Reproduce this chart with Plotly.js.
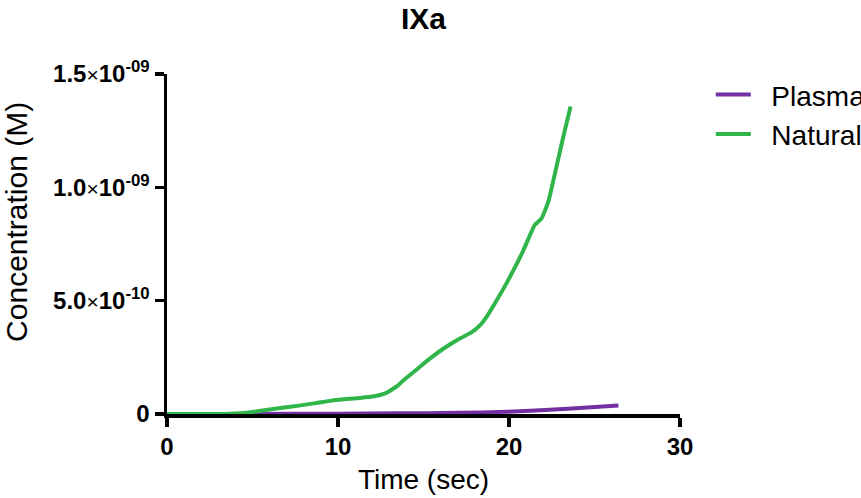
<!DOCTYPE html>
<html>
<head>
<meta charset="utf-8">
<script src="https://cdn.plot.ly/plotly-3.0.1.min.js"></script>
<style>html,body{margin:0;padding:0;background:#fff;}#chart{width:861px;height:498px;}</style>
</head>
<body>
<div id="chart"></div>
<script>
// Time (sec)
const plasmaTime = [0, 5, 10, 13.5, 17, 19.9, 23.2, 26.4];
// Concentration (M)
const plasmaConc = [0, 0.5e-12, 1e-12, 3e-12, 5e-12, 10e-12, 22e-12, 37e-12];

const naturalTime = [0, 2, 3.6, 4.5, 5.3, 6.5, 7.7, 8.7, 9.6, 10.5, 11.3, 12.1, 12.8, 13.5, 13.8, 14.5, 15.35, 16.2, 17.1, 17.8, 18.3, 18.7, 19.1, 19.9, 20.8, 21.5, 21.9, 22.3, 22.8, 23.2, 23.6];
const naturalConc = [0, 0, 1e-12, 5e-12, 12e-12, 25e-12, 37e-12, 48e-12, 59e-12, 66e-12, 71e-12, 78e-12, 92e-12, 125e-12, 147e-12, 190e-12, 243e-12, 290e-12, 332e-12, 360e-12, 391e-12, 430e-12, 479e-12, 583e-12, 715e-12, 833e-12, 863e-12, 937e-12, 1099e-12, 1231e-12, 1357e-12];

const seriesNames = ["Plasma", "Natural"];
const yTickVals = [0, 5e-10, 1e-9, 1.5e-9];
const TIMES = "<span style=\"font-weight:normal;font-size:21px\">×</span>";
const yTickText = ["0", "5.0" + TIMES + "10<sup>-10</sup>", "1.0" + TIMES + "10<sup>-09</sup>", "1.5" + TIMES + "10<sup>-09</sup>"];
const xTickVals = [0, 10, 20, 30];

const traces = [
  {x: plasmaTime, y: plasmaConc, name: "\u00a0\u00a0" + seriesNames[0], mode: "lines",
   line: {color: "#7330a3", width: 4, shape: "spline", smoothing: 0.6}},
  {x: naturalTime, y: naturalConc, name: "\u00a0\u00a0" + seriesNames[1], mode: "lines",
   line: {color: "#2fb54a", width: 4, shape: "spline", smoothing: 0.4}}
];

const layout = {
  width: 861, height: 498,
  margin: {l: 167, r: 181, t: 74, b: 84, autoexpand: false},
  paper_bgcolor: "#fff", plot_bgcolor: "#fff",
  font: {family: "Liberation Sans, Arial, sans-serif", color: "#000"},
  title: {text: "<b>IXa</b>", x: 0.5, xref: "paper", y: 0.962, yanchor: "middle", font: {size: 30, color: "#000"}},
  xaxis: {
    range: [0, 30], tickvals: xTickVals, ticktext: xTickVals.map(String),
    showgrid: false, zeroline: false, showline: true, linecolor: "#000", linewidth: 3.5,
    ticks: "outside", ticklen: 9, tickwidth: 3.5, tickcolor: "#000",
    tickfont: {size: 24, family: "Liberation Sans, Arial, sans-serif", weight: "bold"},
    title: {text: "Time (sec)", font: {size: 28}, standoff: 11}
  },
  yaxis: {
    range: [0, 1.5e-9], tickvals: yTickVals, ticktext: yTickText,
    showgrid: false, zeroline: false, showline: true, linecolor: "#000", linewidth: 3.5,
    ticks: "outside", ticklen: 9, tickwidth: 3.5, tickcolor: "#000",
    tickfont: {size: 24, family: "Liberation Sans, Arial, sans-serif", weight: "bold"}
  },
  annotations: [{
    text: "Concentration (M)", textangle: -90, showarrow: false,
    xref: "paper", yref: "paper", x: 0, y: 0.565, xanchor: "center", yanchor: "middle",
    xshift: -150, font: {size: 30, color: "#000"}
  }],
  showlegend: true,
  legend: {x: 1.06, xanchor: "left", y: 1.012, yanchor: "top", font: {size: 28},
           itemwidth: 35, tracegroupgap: 0, bgcolor: "rgba(0,0,0,0)"}
};

Plotly.newPlot("chart", traces, layout, {displayModeBar: false, staticPlot: true});
</script>
</body>
</html>
